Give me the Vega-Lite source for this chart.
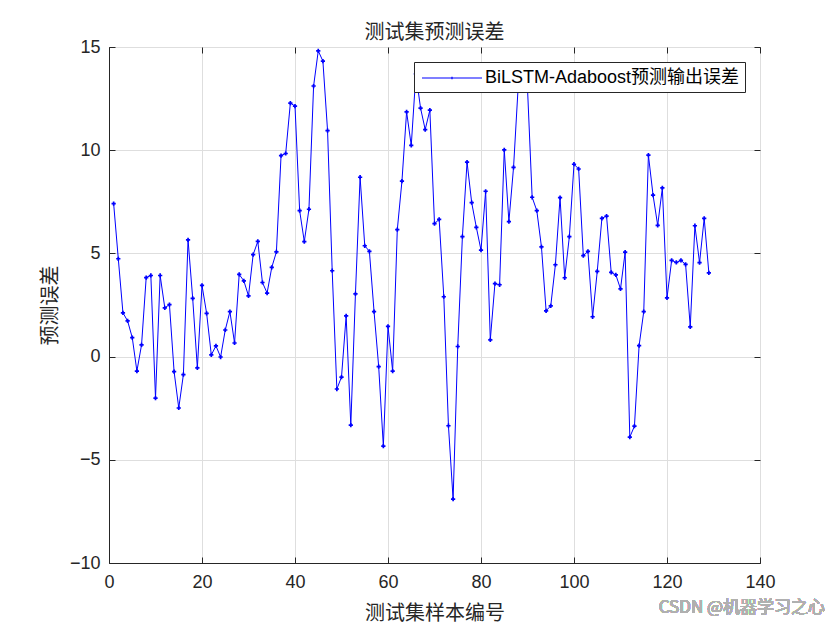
{
  "$schema": "https://vega.github.io/schema/vega-lite/v6.json",
  "width": 651,
  "height": 516,
  "autosize": {"type": "none"},
  "padding": {"left": 109, "top": 47, "right": 80, "bottom": 67},
  "background": "white",
  "title": {"text": "测试集预测误差", "font": "Noto Sans CJK SC", "fontSize": 20, "fontWeight": "normal", "color": "#262626", "offset": -5},
  "config": {
    "view": {"stroke": "#262626", "strokeWidth": 1},
    "axis": {
      "labelFont": "Liberation Sans",
      "labelFontSize": 18,
      "labelColor": "#262626",
      "labelFlush": false,
      "titleFont": "Noto Sans CJK SC",
      "titleFontSize": 20,
      "titleFontWeight": "normal",
      "titleColor": "#262626",
      "gridColor": "#dedede",
      "gridOpacity": 1,
      "domainColor": "#262626",
      "tickColor": "#262626",
      "tickSize": -6
    },
    "legend": {
      "orient": "top-right",
      "offset": 15,
      "strokeColor": "#262626",
      "fillColor": "white",
      "padding": 5,
      "labelFont": "Liberation Sans, Noto Sans CJK SC",
      "labelFontSize": 18,
      "labelColor": "black",
      "labelLimit": 500,
      "labelOffset": 44,
      "symbolType": "M-0.8,0H5.2M2.1,0H2.3M2.2,-0.12V0.12",
      "symbolSize": 400,
      "symbolStrokeWidth": 1.2
    }
  },
  "data": {
    "values": [
      {"n": 1, "e": 7.41}, {"n": 2, "e": 4.74}, {"n": 3, "e": 2.12}, {"n": 4, "e": 1.73}, {"n": 5, "e": 0.92},
      {"n": 6, "e": -0.70}, {"n": 7, "e": 0.57}, {"n": 8, "e": 3.83}, {"n": 9, "e": 3.93}, {"n": 10, "e": -2.01},
      {"n": 11, "e": 3.93}, {"n": 12, "e": 2.36}, {"n": 13, "e": 2.52}, {"n": 14, "e": -0.73}, {"n": 15, "e": -2.49},
      {"n": 16, "e": -0.87}, {"n": 17, "e": 5.66}, {"n": 18, "e": 2.82}, {"n": 19, "e": -0.55}, {"n": 20, "e": 3.45},
      {"n": 21, "e": 2.09}, {"n": 22, "e": 0.08}, {"n": 23, "e": 0.52}, {"n": 24, "e": -0.02}, {"n": 25, "e": 1.29},
      {"n": 26, "e": 2.18}, {"n": 27, "e": 0.66}, {"n": 28, "e": 3.98}, {"n": 29, "e": 3.67}, {"n": 30, "e": 2.94},
      {"n": 31, "e": 4.94}, {"n": 32, "e": 5.58}, {"n": 33, "e": 3.59}, {"n": 34, "e": 3.08}, {"n": 35, "e": 4.32},
      {"n": 36, "e": 5.07}, {"n": 37, "e": 9.74}, {"n": 38, "e": 9.84}, {"n": 39, "e": 12.28}, {"n": 40, "e": 12.14},
      {"n": 41, "e": 7.07}, {"n": 42, "e": 5.57}, {"n": 43, "e": 7.14}, {"n": 44, "e": 13.11}, {"n": 45, "e": 14.81},
      {"n": 46, "e": 14.32}, {"n": 47, "e": 10.95}, {"n": 48, "e": 4.16}, {"n": 49, "e": -1.57}, {"n": 50, "e": -0.99},
      {"n": 51, "e": 1.97}, {"n": 52, "e": -3.32}, {"n": 53, "e": 3.04}, {"n": 54, "e": 8.69}, {"n": 55, "e": 5.37},
      {"n": 56, "e": 5.10}, {"n": 57, "e": 2.18}, {"n": 58, "e": -0.49}, {"n": 59, "e": -4.34}, {"n": 60, "e": 1.46},
      {"n": 61, "e": -0.70}, {"n": 62, "e": 6.15}, {"n": 63, "e": 8.50}, {"n": 64, "e": 11.86}, {"n": 65, "e": 10.23},
      {"n": 66, "e": 13.7}, {"n": 67, "e": 12.04}, {"n": 68, "e": 11.0}, {"n": 69, "e": 11.94}, {"n": 70, "e": 6.44},
      {"n": 71, "e": 6.65}, {"n": 72, "e": 2.90}, {"n": 73, "e": -3.35}, {"n": 74, "e": -6.91}, {"n": 75, "e": 0.49},
      {"n": 76, "e": 5.81}, {"n": 77, "e": 9.42}, {"n": 78, "e": 7.46}, {"n": 79, "e": 6.26}, {"n": 80, "e": 5.16},
      {"n": 81, "e": 8.01}, {"n": 82, "e": 0.81}, {"n": 83, "e": 3.54}, {"n": 84, "e": 3.48}, {"n": 85, "e": 10.02},
      {"n": 86, "e": 6.54}, {"n": 87, "e": 9.17}, {"n": 88, "e": 13.1}, {"n": 89, "e": 13.7}, {"n": 90, "e": 13.0},
      {"n": 91, "e": 7.72}, {"n": 92, "e": 7.07}, {"n": 93, "e": 5.32}, {"n": 94, "e": 2.22}, {"n": 95, "e": 2.46},
      {"n": 96, "e": 4.45}, {"n": 97, "e": 7.70}, {"n": 98, "e": 3.82}, {"n": 99, "e": 5.81}, {"n": 100, "e": 9.32},
      {"n": 101, "e": 9.09}, {"n": 102, "e": 4.89}, {"n": 103, "e": 5.10}, {"n": 104, "e": 1.93}, {"n": 105, "e": 4.13},
      {"n": 106, "e": 6.70}, {"n": 107, "e": 6.81}, {"n": 108, "e": 4.08}, {"n": 109, "e": 3.96}, {"n": 110, "e": 3.28},
      {"n": 111, "e": 5.06}, {"n": 112, "e": -3.90}, {"n": 113, "e": -3.37}, {"n": 114, "e": 0.53}, {"n": 115, "e": 2.18},
      {"n": 116, "e": 9.76}, {"n": 117, "e": 7.82}, {"n": 118, "e": 6.36}, {"n": 119, "e": 8.17}, {"n": 120, "e": 2.85},
      {"n": 121, "e": 4.66}, {"n": 122, "e": 4.56}, {"n": 123, "e": 4.66}, {"n": 124, "e": 4.47}, {"n": 125, "e": 1.44},
      {"n": 126, "e": 6.34}, {"n": 127, "e": 4.55}, {"n": 128, "e": 6.70}, {"n": 129, "e": 4.06}
    ]
  },
  "layer": [
    {
      "mark": {"type": "line", "strokeWidth": 1},
      "encoding": {
        "x": {"field": "n", "type": "quantitative", "scale": {"domain": [0, 140], "nice": false, "zero": false},
              "axis": {"title": "测试集样本编号", "values": [0, 20, 40, 60, 80, 100, 120, 140], "labelPadding": 16, "titlePadding": 12}},
        "y": {"field": "e", "type": "quantitative", "scale": {"domain": [-10, 15], "nice": false, "zero": false},
              "axis": {"title": "预测误差", "values": [-10, -5, 0, 5, 10, 15], "labelPadding": 15, "titlePadding": 9}},
        "color": {"datum": "BiLSTM-Adaboost预测输出误差", "type": "nominal", "scale": {"range": ["#0000ff"]}, "legend": {"title": null}}
      }
    },
    {
      "mark": {"type": "point", "shape": "cross", "filled": true, "size": 18, "opacity": 1},
      "encoding": {
        "x": {"field": "n", "type": "quantitative",
              "axis": {"orient": "top", "title": null, "labels": false, "grid": false, "domain": false, "values": [0, 20, 40, 60, 80, 100, 120, 140]}},
        "y": {"field": "e", "type": "quantitative",
              "axis": {"orient": "right", "title": null, "labels": false, "grid": false, "domain": false, "values": [-10, -5, 0, 5, 10, 15]}},
        "color": {"datum": "BiLSTM-Adaboost预测输出误差", "type": "nominal"}
      }
    },
    {
      "mark": {"type": "text", "align": "right", "baseline": "middle", "font": "Noto Sans CJK SC", "fontSize": 17, "fontWeight": "normal", "color": "#b0b0b0"},
      "encoding": {
        "x": {"datum": 154, "type": "quantitative", "axis": null},
        "y": {"datum": -12.2, "type": "quantitative", "axis": null},
        "text": {"value": "CSDN @机器学习之心"}
      }
    }
  ],
  "resolve": {"axis": {"x": "independent", "y": "independent"}}
}
